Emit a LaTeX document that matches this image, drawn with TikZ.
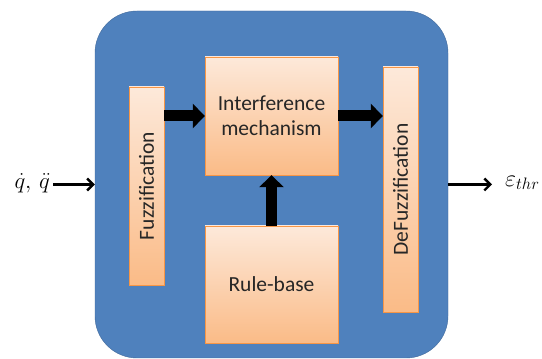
\documentclass[tikz,border=0pt]{standalone}
\usepackage{amsmath}
\usepackage{fontspec}
\setmainfont{Carlito}
\usetikzlibrary{arrows.meta,shadows}
\definecolor{fondbleu}{HTML}{4F81BD}
\definecolor{bordbleu}{HTML}{41699A}
\definecolor{hautorange}{HTML}{FDE9DA}
\definecolor{basorange}{HTML}{FABB87}
\definecolor{bordorange}{HTML}{F79646}
\tikzstyle{bloc}=[rectangle, thin, draw=bordorange, top color=hautorange, bottom color=basorange, text=black!85, inner sep=0pt, align=center, font=\fontsize{21.5}{25}\selectfont, drop shadow={shadow xshift=1pt, shadow yshift=-1.5pt, opacity=0.35}]
\tikzstyle{gros}=[line width=11pt, -{Triangle[length=12pt, width=24pt]}]
\tikzstyle{fin}=[line width=2.4pt, -{Straight Barb[length=6pt, width=12pt]}]

\begin{document}
\begin{tikzpicture}[x=1pt,y=1pt]
 \useasboundingbox (0,0) rectangle (542,359);

 \node[rectangle, rounded corners=42pt, fill=fondbleu, draw=bordbleu, minimum width=353pt, minimum height=347pt] (bleu) at (271.5,174.5) {};

 \node[bloc, minimum width=198pt, minimum height=35pt, rotate=90] (fuzz) at (146.5,173) {Fuzzification};
 \node[bloc, minimum width=133pt, minimum height=118pt] (inter) at (271.5,243) {Interference\\mechanism};
 \node[bloc, minimum width=133pt, minimum height=117pt] (regle) at (271.5,74.5) {Rule-base};
 \node[bloc, minimum width=245pt, minimum height=35pt, rotate=90] (defuzz) at (400.5,169.5) {DeFuzzification};

 \draw[gros] (fuzz.south |- inter.west) -- (inter.west);
 \draw[gros] (inter.east) -- (defuzz.north |- inter.east);
 \draw[gros] (regle.north) -- (inter.south);

 \node[font=\huge, inner sep=1pt, anchor=east] (entree) at (51,176) {\scalebox{1.1}{$\dot{q},\,\ddot{q}$}};
 \node[font=\huge, inner sep=1pt, anchor=west] (sortie) at (504,176) {\scalebox{1.15}{$\varepsilon_{thr}$}};
 \draw[fin] (entree.east |- bleu.west) ++(2,0) coordinate (depart) (depart) -- (bleu.west);
 \draw[fin, shorten >=12pt] (bleu.east) -- (sortie.west |- bleu.east);

\end{tikzpicture}
\end{document}
